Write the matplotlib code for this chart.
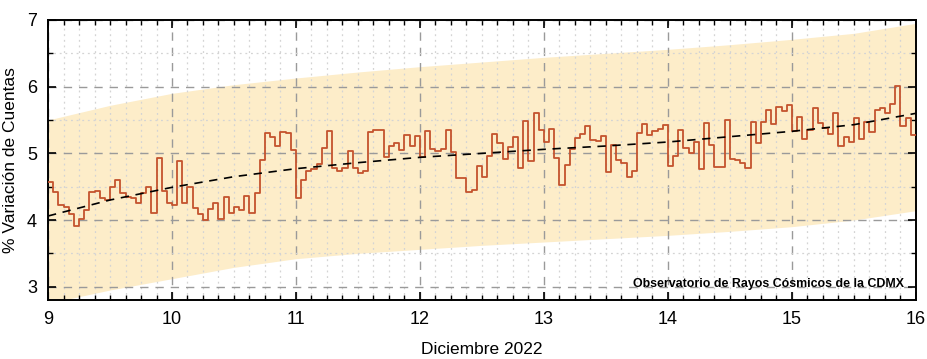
import numpy as np
import matplotlib
matplotlib.use('Agg')
import matplotlib.pyplot as plt
from matplotlib.ticker import MultipleLocator

plt.rcParams['font.family'] = ['Liberation Sans', 'DejaVu Sans']

# hourly % count variation, Dec 9 00h .. Dec 15 23h
dia09 = [4.575, 4.415, 4.225, 4.20, 4.09, 3.91, 4.01, 4.15, 4.425, 4.44, 4.325, 4.30,
         4.49, 4.60, 4.41, 4.34, 4.325, 4.26, 4.40, 4.50, 4.10, 4.925, 4.44, 4.25]
dia10 = [4.225, 4.885, 4.26, 4.49, 4.175, 4.09, 4.00, 4.17, 4.25, 4.01, 4.35, 4.11,
         4.20, 4.15, 4.36, 4.11, 4.41, 4.90, 5.30, 5.25, 5.11, 5.325, 5.30, 5.05]
dia11 = [4.335, 4.60, 4.74, 4.76, 4.84, 5.085, 5.34, 4.775, 4.74, 4.785, 5.035, 4.775,
         4.71, 4.74, 5.325, 5.35, 5.35, 4.95, 5.11, 5.15, 5.05, 5.275, 5.11, 5.26]
dia12 = [4.94, 5.335, 5.06, 5.035, 5.06, 5.35, 5.025, 4.635, 4.635, 4.425, 4.45, 4.815,
         4.65, 4.96, 5.285, 5.16, 4.91, 5.10, 5.24, 4.785, 5.49, 4.89, 5.61, 5.35]
dia13 = [5.17, 5.37, 4.93, 4.52, 4.825, 5.06, 5.225, 5.29, 5.41, 5.205, 5.18, 5.255,
         4.725, 5.12, 4.90, 4.85, 4.65, 4.74, 5.30, 5.435, 5.28, 5.33, 5.37, 5.43]
dia14 = [4.81, 4.955, 5.345, 5.075, 5.01, 5.165, 4.76, 5.45, 5.13, 4.79, 4.795, 5.495,
         4.915, 4.90, 4.85, 4.775, 5.475, 5.15, 5.475, 5.65, 5.44, 5.69, 5.63, 5.725]
dia15 = [5.34, 5.55, 5.215, 5.35, 5.685, 5.46, 5.375, 5.29, 5.60, 5.11, 5.25, 5.175,
         5.525, 5.21, 5.475, 5.325, 5.65, 5.675, 5.61, 5.735, 6.01, 5.41, 5.525, 5.275]

# trend and band, read at half-day points
t_dias = [9.0, 9.5, 10.0, 10.5, 11.0, 11.5, 12.0, 12.5, 13.0, 13.5, 14.0, 14.5, 15.0, 15.5, 16.0]
tendencia = [4.06, 4.30, 4.49, 4.65, 4.77, 4.86, 4.94, 5.00, 5.06, 5.11, 5.17, 5.25, 5.33, 5.43, 5.60]
banda_sup = [5.50, 5.72, 5.90, 6.03, 6.13, 6.22, 6.30, 6.37, 6.44, 6.50, 6.56, 6.63, 6.71, 6.80, 6.95]
banda_inf = [2.75, 2.95, 3.12, 3.29, 3.42, 3.50, 3.56, 3.62, 3.67, 3.72, 3.77, 3.83, 3.90, 4.00, 4.14]

valores = dia09 + dia10 + dia11 + dia12 + dia13 + dia14 + dia15
horas = 9 + np.arange(len(valores)) / 24.0
horas = np.append(horas, 16.0)
valores = np.append(valores, valores[-1])

fig = plt.figure(figsize=(9.27, 3.59), dpi=100)
ax = fig.add_axes([0.0518, 0.1643, 0.9362, 0.7800])

ax.fill_between(t_dias, banda_inf, banda_sup, color='#fdedc9', linewidth=0, zorder=1)
ax.step(horas, valores, where='post', color='#c4532d', linewidth=1.3, zorder=3)
ax.plot(t_dias, tendencia, color='black', linestyle=(0, (5, 4)), linewidth=1.2, zorder=4)

ax.set_xlim(9, 16)
ax.set_ylim(2.8, 7)
ax.xaxis.set_major_locator(MultipleLocator(1))
ax.xaxis.set_minor_locator(MultipleLocator(0.125))
ax.yaxis.set_major_locator(MultipleLocator(1))
ax.yaxis.set_minor_locator(MultipleLocator(0.5))

ax.grid(which='major', color='#9a9a9a', linestyle=(0, (6, 5)), linewidth=1.0)
ax.grid(which='minor', color='#d4d4d4', linestyle=(0, (1.5, 3)), linewidth=0.9)

ax.tick_params(which='both', direction='in', top=True, right=True, labelsize=13, pad=8)
ax.tick_params(which='major', length=6, width=1.2)
ax.tick_params(which='minor', length=3.5, width=1.0)
for s in ax.spines.values():
    s.set_linewidth(1.4)

ax.set_xlabel('Diciembre 2022', fontsize=12.5, labelpad=10)
ax.set_ylabel('% Variación de Cuentas', fontsize=12.5, labelpad=6)

ax.text(0.986, 0.036, 'Observatorio de Rayos Cósmicos de la CDMX', transform=ax.transAxes,
        ha='right', va='bottom', fontsize=8.9, fontweight='bold', zorder=5)

fig.savefig('out.png', dpi=100)
